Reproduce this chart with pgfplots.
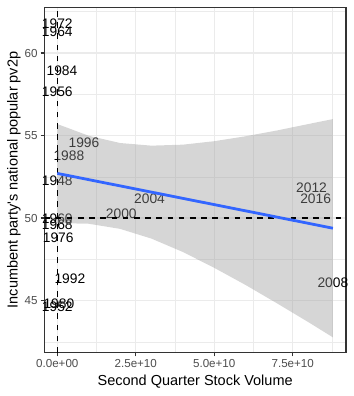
\documentclass[border=0pt]{standalone}
\usepackage{pgfplots}
\pgfplotsset{compat=1.18}
\usepackage{fontspec}
\setmainfont{Liberation Sans}
\definecolor{gridc}{gray}{0.92}
\definecolor{g20}{gray}{0.2}
\definecolor{g30}{gray}{0.3}
\definecolor{smoothc}{HTML}{3366FF}
\definecolor{bandc}{gray}{0.6}
\begin{document}
\begin{tikzpicture}
\begin{axis}[
  set layers,
  clip mode=individual,
  /pgf/number format/assume math mode=true,
  scale only axis, width=301.7bp, height=345.4bp,
  xmin=-0.414, xmax=9.198, ymin=41.85, ymax=62.77,
  axis line style={g20, line width=1.41bp},
  grid=both,
  major grid style={gridc, line width=1.41bp},
  minor grid style={gridc, line width=0.7bp},
  xtick={0,2.5,5,7.5},
  xticklabels={0.0e+00,2.5e+10,5.0e+10,7.5e+10},
  minor xtick={1.25,3.75,6.25,8.75},
  ytick={45,50,55,60},
  minor ytick={42.5,47.5,52.5,57.5,62.5},
  xtick pos=bottom, ytick pos=left,
  tick align=outside,
  major tick length=3.6bp, minor tick length=0pt,
  tick style={g20, line width=1.41bp},
  ticklabel style={font=\fontsize{11.6bp}{13bp}\selectfont, text=g30},
  xticklabel style={inner sep=0pt, yshift=-2.9bp},
  yticklabel style={inner sep=0pt, xshift=-2.9bp},
  xlabel={Second Quarter Stock Volume},
  ylabel={Incumbent party\textquotesingle s national popular pv2p},
  xlabel style={at={([yshift=-32.6bp]axis description cs:0.5,0)}, anchor=base, font=\fontsize{14.5bp}{17bp}\selectfont},
  ylabel style={at={([xshift=-26.7bp]axis description cs:0,0.5)}, anchor=base, font=\fontsize{14.5bp}{17bp}\selectfont},
]
% year labels
\addplot[only marks, mark=none, nodes near coords, point meta=explicit symbolic,
  every node near coord/.append style={anchor=center, inner sep=0pt, font=\fontsize{13.8bp}{15bp}\selectfont, text=black}]
  table[x=x, y=y, meta=label] {
x y label
0 61.75 1972
0 61.26 1964
0.15 58.95 1984
0 57.68 1956
0.85 54.55 1996
0.37 53.78 1988
0 52.25 1948
2.94 51.20 2004
2.04 50.25 2000
0 49.94 1960
0 49.60 1968
0.03 48.80 1976
0.40 46.31 1992
0.05 44.80 1980
0 44.64 1952
8.10 51.85 2012
8.23 51.16 2016
8.78 46.10 2008
};
% confidence band
\addplot[on layer=axis foreground, fill=bandc, fill opacity=0.4, draw=none] coordinates {
(0,55.70) (1,54.99) (2,54.55) (3,54.39) (4,54.45) (5,54.66) (6,54.96) (7,55.31) (8,55.70) (8.78,56.00)
(8.78,42.78) (8,43.70) (7,44.84) (6,45.95) (5,46.99) (4,47.95) (3,48.76) (2,49.35) (1,49.66) (0,49.70)
} -- cycle;
% dashed reference lines
\addplot[on layer=axis foreground, black, line width=1.41bp, dash pattern=on 5.6bp off 5.6bp] coordinates {(-0.414,50) (9.198,50)};
\addplot[on layer=axis foreground, black, line width=1.41bp, dash pattern=on 5.6bp off 5.6bp] coordinates {(0,41.85) (0,62.77)};
% regression line
\addplot[on layer=axis foreground, smoothc, line width=2.8bp] coordinates {(0,52.71) (8.78,49.39)};
\end{axis}
\path[use as bounding box] ([shift={(-44.3bp,-43.3bp)}]current axis.south west) rectangle ++(354bp,396bp);
\end{tikzpicture}
\end{document}
